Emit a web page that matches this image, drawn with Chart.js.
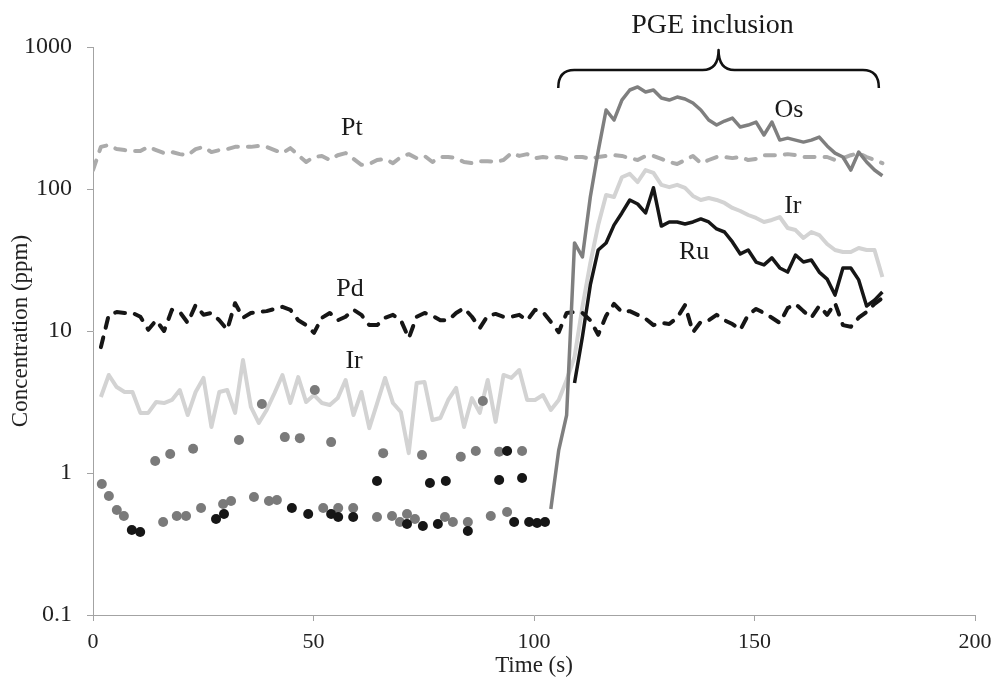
<!DOCTYPE html>
<html>
<head>
<meta charset="utf-8">
<script src="https://cdn.jsdelivr.net/npm/chart.js@4.4.1/dist/chart.umd.min.js"></script>
<style>
html, body { margin: 0; padding: 0; background: #fff; }
#wrap { width: 993px; height: 686px; position: relative; }
</style>
</head>
<body>
<div id="wrap"><canvas id="chart"></canvas></div>
<script>
// time of each sweep (s)
const STEP = 1.79;
const time = [];
for (let i = 0; i <= 100; i++) time.push(+(i * STEP).toFixed(2));

const ptValues = [
  136,198,204,191,188,185,185,198,188,179,
  182,176,173,191,198,182,188,191,198,198,
  198,201,198,188,179,194,173,155,168,171,
  160,173,179,163,148,150,160,163,152,168,
  176,165,171,155,168,168,165,155,152,157,
  157,155,160,179,171,176,165,168,165,168,
  163,168,168,163,168,171,173,171,165,160,
  171,171,163,155,150,160,171,152,160,168,
  168,165,168,160,163,173,173,173,176,173,
  168,168,168,168,160,165,173,179,168,160,
  152
];
const pdValues = [
  null,7.7,13.0,13.6,13.4,13.4,12.6,10.2,11.9,10.0,
  14.1,13.6,11.4,15.2,13.0,13.4,11.9,10.2,15.7,12.4,
  13.4,13.6,13.8,14.3,14.8,14.1,11.9,11.0,9.7,12.4,
  13.4,11.9,12.6,14.1,13.0,11.0,11.0,12.4,13.0,11.9,
  8.9,12.6,13.4,12.8,11.9,11.9,13.4,14.5,12.6,10.5,
  12.8,13.2,12.6,12.6,13.0,11.9,14.1,13.6,11.6,9.8,
  13.4,13.6,13.4,11.9,9.4,12.8,15.5,13.6,13.8,13.0,
  12.2,11.0,11.4,11.2,12.4,15.2,9.8,11.6,11.9,13.0,
  11.9,11.2,10.2,13.0,14.3,13.4,12.4,11.4,14.5,15.5,
  13.8,12.4,15.0,13.0,15.7,11.0,10.7,12.4,13.6,15.5,
  17.1
];
const irValues = [
  null,3.43,4.90,4.03,3.72,3.72,2.65,2.65,3.16,3.11,
  3.27,3.84,2.56,3.72,4.67,2.11,3.72,3.84,2.65,6.25,
  2.92,2.25,2.78,3.66,4.90,3.11,4.74,3.16,3.54,3.11,
  3.01,3.37,4.52,2.56,3.72,2.07,3.11,4.67,3.11,2.69,
  1.38,4.30,4.37,2.36,2.44,3.27,3.97,2.11,3.37,2.65,
  4.52,2.29,4.90,4.67,5.31,3.27,3.27,3.54,2.78,3.27,
  4.52,6.56,14.8,30.1,55.7,90.7,87.9,121,128,112,
  136,130,107,103,107,102,89.3,83.7,86.4,83.7,
  79.7,73.5,70.0,65.6,62.5,58.6,60.5,63.5,53.1,51.4,
  45.2,49.8,47.4,41.0,37.2,36.0,36.0,38.4,37.2,37.2,
  24.0
];
// Os and Ru are only above detection limit inside the inclusion
const osStart = 58;
const osValues = [
  0.557,1.45,2.56,41.7,33.2,87.9,185,360,306,423,
  498,523,482,498,437,423,444,430,403,360,
  306,282,301,316,273,282,296,240,296,221,
  228,221,214,221,232,201,179,168,136,182,
  155,136,124
];
const ruStart = 61;
const ruValues = [
  4.30,9.1,21.1,37.2,41.7,55.7,67.8,83.7,78.4,67.8,
  102,54.8,58.6,58.6,56.7,58.6,61.5,58.6,52.3,49.8,
  42.4,34.9,37.2,30.6,29.2,32.7,27.8,26.0,34.3,30.6,
  31.6,26.0,23.2,17.9,27.8,27.8,22.9,15.0,16.5,18.8
];

// single points in the background part
const greyDotTimes = [2.0,3.6,5.4,7.0,14.1,15.9,17.5,19.0,21.1,22.7,24.5,29.5,31.3,33.1,36.5,38.3,39.9,41.7,43.5,46.9,50.3,52.2,54.0,55.6,59.0,64.4,65.8,67.8,69.6,71.2,73.0,74.6,79.8,81.6,83.4,85.0,86.8,88.4,90.2,92.1,93.9,97.3];
const greyDotValues = [0.837,0.689,0.549,0.498,1.215,0.452,1.36,0.498,0.498,1.48,0.567,0.605,0.635,1.71,0.678,3.06,0.635,0.645,1.79,1.76,3.84,0.567,1.65,0.567,0.567,0.490,1.38,0.498,0.452,0.514,0.474,1.34,0.490,0.452,1.30,0.452,1.43,3.21,0.498,1.41,0.531,1.43];
const blackDotTimes = [8.8,10.7,27.9,29.7,45.1,48.8,54.0,55.6,59.0,64.4,71.2,74.8,76.4,78.2,80.0,85.0,92.1,93.9,95.5,97.3,98.9,100.7,102.5];
const blackDotValues = [0.397,0.384,0.474,0.514,0.567,0.514,0.514,0.490,0.490,0.879,0.437,0.424,0.850,0.437,0.879,0.390,0.893,1.43,0.452,0.922,0.452,0.445,0.452];

const yTicks = [0.1, 1, 10, 100, 1000];
const yTickLabels = ["0.1", "1", "10", "100", "1000"];

const labelNames = ["Pt", "Pd", "Ir", "Os", "Ir", "Ru"];
const labelTimes = [58.7, 58.3, 59.2, 157.8, 158.7, 136.3];
const labelValues = [269, 19.8, 6.15, 360, 75.9, 36.0];

const inclusionText = "PGE inclusion";
const inclusionFrom = 105.5;
const inclusionTo = 178.2;

const SERIF = "'Liberation Serif', 'DejaVu Serif', serif";

function series(values, offset) {
  let pts = [];
  for (let i = 0; i < values.length; i++) {
    if (values[i] == null) continue;
    pts.push({ x: time[i + offset], y: values[i] });
  }
  return pts;
}

function dots(times, values) {
  return times.map((t, i) => ({ x: t, y: values[i] }));
}

const annotate = {
  id: "annotate",
  afterDatasetsDraw(chart) {
    const ctx = chart.ctx;
    const xs = chart.scales.x, ys = chart.scales.y;
    ctx.save();
    ctx.fillStyle = "#1a1a1a";
    ctx.textAlign = "center";
    ctx.textBaseline = "middle";
    ctx.font = "26px " + SERIF;
    for (let i = 0; i < labelNames.length; i++) {
      ctx.fillText(labelNames[i], xs.getPixelForValue(labelTimes[i]), ys.getPixelForValue(labelValues[i]));
    }

    // curly brace over the inclusion part
    const top = chart.chartArea.top;
    const xL = xs.getPixelForValue(inclusionFrom);
    const xR = xs.getPixelForValue(inclusionTo);
    const xC = (xL + xR) / 2;
    const yEnd = top + 41, yBar = top + 23, yCusp = top + 3, r = 16;
    ctx.strokeStyle = "#111";
    ctx.lineWidth = 2.5;
    ctx.lineJoin = "round";
    ctx.beginPath();
    ctx.moveTo(xL, yEnd);
    ctx.quadraticCurveTo(xL, yBar, xL + r, yBar);
    ctx.lineTo(xC - r, yBar);
    ctx.quadraticCurveTo(xC, yBar, xC, yCusp);
    ctx.quadraticCurveTo(xC, yBar, xC + r, yBar);
    ctx.lineTo(xR - r, yBar);
    ctx.quadraticCurveTo(xR, yBar, xR, yEnd);
    ctx.stroke();

    ctx.font = "28px " + SERIF;
    ctx.fillText(inclusionText, xC - 6, top - 21);
    ctx.restore();
  }
};

const axisColor = "#a3a3a3";

new Chart(document.getElementById("chart"), {
  type: "line",
  data: {
    datasets: [
      { label: "Ru", data: series(ruValues, ruStart), borderColor: "#161616", borderWidth: 3.5, pointRadius: 0, order: 1 },
      { label: "Os", data: series(osValues, osStart), borderColor: "#7f7f7f", borderWidth: 3.5, pointRadius: 0, order: 2 },
      { label: "Ru dots", type: "scatter", data: dots(blackDotTimes, blackDotValues), backgroundColor: "#161616", borderWidth: 0, pointRadius: 5, order: 3 },
      { label: "Os dots", type: "scatter", data: dots(greyDotTimes, greyDotValues), backgroundColor: "#7a7a7a", borderWidth: 0, pointRadius: 5, order: 4 },
      { label: "Pd", data: series(pdValues, 0), borderColor: "#161616", borderWidth: 4, borderDash: [10, 10], borderCapStyle: "round", pointRadius: 0, order: 5 },
      { label: "Pt", data: series(ptValues, 0), borderColor: "#ababab", borderWidth: 4, borderDash: [10, 10], borderCapStyle: "round", pointRadius: 0, order: 6 },
      { label: "Ir", data: series(irValues, 0), borderColor: "#d3d3d3", borderWidth: 4, pointRadius: 0, order: 7 },
    ]
  },
  options: {
    responsive: true,
    maintainAspectRatio: false,
    animation: false,
    layout: { padding: { left: 0, right: 0, top: 47, bottom: 0 } },
    elements: { line: { tension: 0, borderJoinStyle: "round", fill: false } },
    plugins: { legend: { display: false }, tooltip: { enabled: false } },
    scales: {
      x: {
        type: "linear",
        min: 0,
        max: 200,
        ticks: { stepSize: 50, color: "#222", padding: 8, font: { family: SERIF, size: 22 } },
        grid: { drawOnChartArea: false, drawTicks: true, tickLength: 6, color: axisColor },
        border: { color: axisColor, width: 1 },
        title: { display: true, text: "Time (s)", color: "#222", font: { family: SERIF, size: 23 }, padding: { top: 0, bottom: 6 } },
        afterFit: (s) => { s.height = 71; s.paddingRight = 18; s.paddingLeft = 0; }
      },
      y: {
        type: "logarithmic",
        min: 0.1,
        max: 1000,
        afterBuildTicks: (s) => { s.ticks = yTicks.map(v => ({ value: v })); },
        ticks: {
          color: "#222",
          padding: 15,
          font: { family: SERIF, size: 24 },
          callback: (v) => yTickLabels[yTicks.indexOf(v)]
        },
        grid: { drawOnChartArea: false, drawTicks: true, tickLength: 6, color: axisColor },
        border: { color: axisColor, width: 1 },
        title: { display: true, text: "Concentration (ppm)", color: "#222", font: { family: SERIF, size: 23 }, padding: { top: 7, bottom: 0 } },
        afterFit: (s) => { s.width = 93; }
      }
    }
  },
  plugins: [annotate]
});
</script>
</body>
</html>
